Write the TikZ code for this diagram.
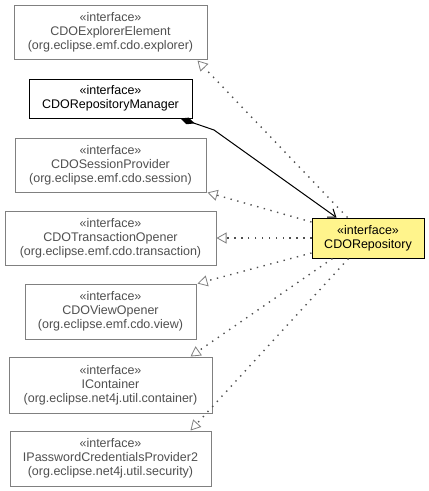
\documentclass[tikz,border=0pt]{standalone}
\usepackage{fontspec}
\setmainfont{Liberation Sans}
\usetikzlibrary{arrows.meta,calc}
\definecolor{boxgray}{HTML}{808080}
\definecolor{txtgray}{HTML}{505050}
\definecolor{dotgray}{HTML}{505050}
\definecolor{repyellow}{HTML}{FFF48C}
\begin{document}
\begin{tikzpicture}[x=1pt,y=-1pt,
  every node/.style={font=\fontsize{12.5}{14}\selectfont},
  ibox/.style={draw=boxgray, line width=1pt, fill=white, text=txtgray, align=center, inner sep=0pt, minimum height=54pt},
  mbox/.style={draw=black, line width=1pt, fill=white, text=black, align=center, inner sep=0pt},
  rbox/.style={draw=black, line width=1pt, fill=repyellow, text=black, align=center, inner sep=0pt},
  real/.style={draw=dotgray, line width=1.4pt, dash pattern=on 1.4pt off 5.5pt, line cap=butt,
    -{Triangle[open, length=10pt, width=11pt, line width=0.8pt, fill=white, color=boxgray]}},
  comp/.style={draw=black, line width=1pt,
    {Diamond[length=15pt, width=7pt, fill=black]}-{Straight Barb[length=7pt, width=10pt, line width=1pt]}}
]
\useasboundingbox (0,0) rectangle (429,491);
\node[ibox, minimum width=193pt] (exp) at (110.5,32) {«interface»\\CDOExplorerElement\\(org.eclipse.emf.cdo.explorer)};
\node[mbox, minimum width=163pt, minimum height=39pt] (mgr) at (110.5,98.5) {«interface»\\CDORepositoryManager};
\node[ibox, minimum width=191pt] (ses) at (110.5,165) {«interface»\\CDOSessionProvider\\(org.eclipse.emf.cdo.session)};
\node[ibox, minimum width=211pt] (tra) at (110.5,238) {«interface»\\CDOTransactionOpener\\(org.eclipse.emf.cdo.transaction)};
\node[rbox, minimum width=112pt, minimum height=40pt] (rep) at (368,238) {«interface»\\CDORepository};
\node[ibox, minimum width=171pt, minimum height=55pt] (view) at (110.5,311.5) {«interface»\\CDOViewOpener\\(org.eclipse.emf.cdo.view)};
\node[ibox, minimum width=203pt, minimum height=56pt] (icon) at (110.5,385) {«interface»\\IContainer\\(org.eclipse.net4j.util.container)};
\node[ibox, minimum width=201pt, minimum height=55pt] (pwd) at (110.5,458.5) {«interface»\\IPasswordCredentialsProvider2\\(org.eclipse.net4j.util.security)};

\coordinate (bend) at (214,130);
\draw[real] ($(rep.north west)+(36,0)$) -- ($(exp.south east)+(-10,1)$);
\draw[comp] ($(mgr.south east)+(-12,0)$) -- (bend) -- ($(rep.north west)+(25,0)$);
\draw[real] ($(rep.west)+(0,-16)$) -- ($(ses.south east)+(1,0)$);
\draw[real] (rep.west) -- (tra.east);
\draw[real] ($(rep.west)+(0,15)$) -- ($(view.north east)+(1,0)$);
\draw[real] ($(rep.south west)+(21,0)$) -- ($(icon.north east)+(-22,0)$);
\draw[real] ($(rep.south west)+(37,0)$) -- ($(pwd.north east)+(-21,0)$);
\end{tikzpicture}
\end{document}
